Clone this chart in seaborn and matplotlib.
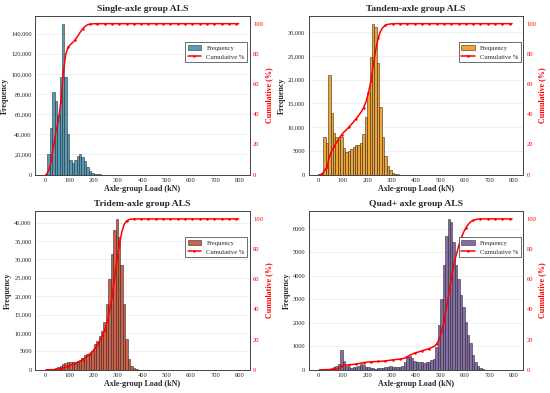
import numpy as np
import pandas as pd
import matplotlib
matplotlib.use("Agg")
import matplotlib.pyplot as plt
import seaborn as sns

# counts per 10 kN bin, starting at 0 kN (bins beyond the list are empty)
single_counts = [300, 20000, 46000, 82000, 73000, 59000, 97000, 150000, 97000, 40000,
                 14000, 12000, 14000, 18500, 20000, 17000, 13500, 8000, 3500, 1200,
                 500, 250, 150, 80, 40]
tandem_counts = [50, 300, 8000, 6700, 20900, 12900, 8700, 8000, 7200, 7900,
                 5600, 4800, 5000, 5400, 5800, 6200, 6300, 6700, 8500, 12200,
                 17300, 24800, 31800, 31200, 23600, 14300, 7900, 4000, 1900, 900,
                 400, 150, 50]
tridem_counts = [30, 60, 120, 250, 450, 700, 1000, 1500, 1900, 2100,
                 2100, 2000, 2100, 2400, 2800, 3300, 4000, 4200, 4600, 5200,
                 7000, 7900, 9200, 10600, 13000, 17900, 24700, 31500, 38000, 41000,
                 36000, 28500, 17900, 8300, 2900, 1100, 400, 100, 40]
quad_counts = [10, 10, 20, 30, 40, 60, 100, 150, 250, 830,
               380, 170, 100, 80, 100, 130, 180, 230, 200, 130,
               110, 80, 60, 50, 60, 60, 80, 100, 130, 160,
               130, 110, 110, 120, 160, 320, 560, 600, 500, 380,
               330, 330, 340, 310, 320, 350, 430, 480, 980, 1900,
               3030, 4440, 5710, 6420, 6280, 5430, 4440, 3870, 3170, 2670,
               2040, 1470, 1120, 620, 340, 170, 80, 30]

titles = ["Single-axle group ALS", "Tandem-axle group ALS",
          "Tridem-axle group ALS", "Quad+ axle group ALS"]
colors = ["#2E86AB", "#F18F01", "#C73E1D", "#6A4C93"]
all_counts = [single_counts, tandem_counts, tridem_counts, quad_counts]

bin_edges = np.arange(0, 810, 10)
bin_centers = bin_edges[:-1] + 5


def fmt_freq(v, pos):
    return f"{v:,.0f}" if v >= 10000 else f"{v:.0f}"


sns.set_style("white")
plt.rcParams["font.family"] = ["Liberation Serif", "DejaVu Serif"]

fig, axes = plt.subplots(2, 2, figsize=(5.5, 3.93), dpi=100)
fig.subplots_adjust(left=0.064, right=0.951, top=0.959, bottom=0.059,
                    wspace=0.276, hspace=0.232)

for ax, counts, title, color in zip(axes.flat, all_counts, titles, colors):
    freq = np.zeros(len(bin_centers))
    freq[:len(counts)] = counts
    df = pd.DataFrame({"load": bin_centers, "freq": freq,
                       "cum": np.cumsum(freq) / freq.sum() * 100})

    sns.histplot(data=df, x="load", weights="freq", binwidth=10, binrange=(0, 800),
                 ax=ax, color=color, alpha=0.82, edgecolor="#333333", linewidth=0.4,
                 label="Frequency")
    ax.set_xlim(-40, 840)
    ax.set_ylim(0, max(counts) * 1.05)
    ax.set_title(title, fontsize=6.8, fontweight="bold", pad=3.5)
    ax.set_xlabel("Axle-group Load (kN)", fontsize=5.8, fontweight="bold", labelpad=1.5)
    ax.set_ylabel("Frequency", fontsize=5.8, fontweight="bold", labelpad=1.5)
    ax.tick_params(axis="y", labelsize=4.6, length=0, pad=2.5)
    ax.tick_params(axis="x", labelsize=4.7, length=0, pad=2.5)
    ax.yaxis.set_major_formatter(matplotlib.ticker.FuncFormatter(fmt_freq))
    ax.grid(axis="y", color="#dddddd", linewidth=0.5, alpha=0.6)
    for s in ax.spines.values():
        s.set_color("#444444")
        s.set_linewidth(0.6)

    ax2 = ax.twinx()
    sns.lineplot(data=df, x="load", y="cum", ax=ax2, color="red", linewidth=1.1,
                 marker="o", markersize=1.8, markeredgewidth=0, markevery=3,
                 label="Cumulative %", legend=False)
    ax2.set_ylim(0, 105)
    ax2.set_ylabel("Cumulative (%)", fontsize=5.8, fontweight="bold", color="red", labelpad=1.5)
    ax2.tick_params(labelsize=4.7, length=0, pad=2.5, labelcolor="red")
    for s in ax2.spines.values():
        s.set_color("#444444")
        s.set_linewidth(0.6)

    h1, l1 = ax.get_legend_handles_labels()
    h2, l2 = ax2.get_legend_handles_labels()
    leg = ax2.legend(h1 + h2, l1 + l2, loc="upper right", bbox_to_anchor=(0.99, 0.835),
                     borderaxespad=0, fontsize=4.8, frameon=True, fancybox=False,
                     edgecolor="#333333", framealpha=1)
    leg.get_frame().set_linewidth(0.5)

fig.savefig("out.png", dpi=100)
